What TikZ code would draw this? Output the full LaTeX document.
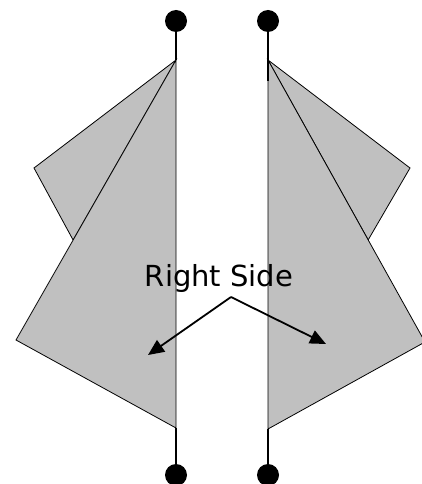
\documentclass[tikz,border=0pt]{standalone}
\usepackage{fontspec}
\setmainfont{DejaVu Sans}
\usetikzlibrary{arrows.meta,calc}
\definecolor{panel}{HTML}{C0C0C0}
\begin{document}
\begin{tikzpicture}[x=1pt,y=-1pt,
  face/.style={fill=panel,draw=black,line width=0.8pt,line join=miter},
  stem/.style={draw=black,line width=2pt},
  dot/.style={circle,fill=black,inner sep=0pt,minimum size=22pt},
  pointer/.style={draw=black,line width=1.8pt,-{Triangle[length=16pt,width=14pt]}}]
\useasboundingbox (0,0) rectangle (422,484);
% left wing
\coordinate (lA) at (176,60);
\coordinate (lB) at (176,428);
\coordinate (lL) at (16,340);
\draw[face] (lA) -- (34,168) -- ($(lA)!0.643!(lL)$) -- cycle;
\draw[face] (lA) -- (lL) -- (lB) -- cycle;
\node[dot] (ltop) at (176,21) {};
\node[dot] (lbot) at (176,475) {};
\draw[stem] (ltop.center) -- (lA);
\draw[stem] (lB) -- (lbot.center);
% right wing
\coordinate (rA) at (268,60);
\coordinate (rB) at (268,429);
\coordinate (rS) at (268,81);
\coordinate (rR) at (425,342);
\draw[face] (rA) -- (410,168) -- ($(rA)!0.638!(rR)$) -- cycle;
\draw[face] (rA) -- (rR) -- (rB) -- cycle;
\node[dot] (rtop) at (268,21) {};
\node[dot] (rbot) at (268,475) {};
\draw[stem] (rtop.center) -- (rS);
\draw[stem] (rB) -- (rbot.center);
% label
\node[font=\fontsize{29}{35}\selectfont,inner sep=0pt,anchor=base] (lab) at (219,286) {Right Side};
\coordinate (v) at (231,297);
\coordinate (lt) at (148,355);
\coordinate (rt) at (326,344);
\draw[pointer] (v) -- (lt);
\draw[pointer] (v) -- (rt);
\end{tikzpicture}
\end{document}
